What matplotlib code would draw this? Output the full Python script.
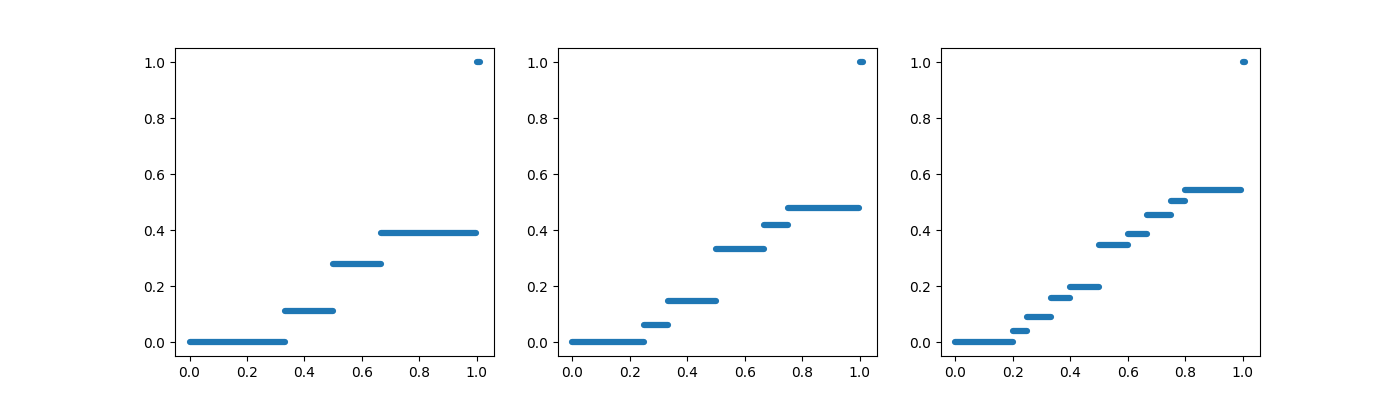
import matplotlib
matplotlib.use("Agg")
import matplotlib.pyplot as plt

# Step-function data: segment breakpoints (x) and levels (y) for each panel
breaks1 = [0.0, 0.333, 0.5, 0.667, 0.996]
levels1 = [0.0, 0.111, 0.279, 0.389]

breaks2 = [0.0, 0.25, 0.333, 0.5, 0.667, 0.75, 0.996]
levels2 = [0.0, 0.061, 0.146, 0.332, 0.418, 0.479]

breaks3 = [0.0, 0.2, 0.25, 0.333, 0.4, 0.5, 0.6, 0.667, 0.75, 0.8, 0.996]
levels3 = [0.0, 0.039, 0.090, 0.157, 0.196, 0.346, 0.386, 0.454, 0.504, 0.543]

# final isolated point(s) at x = 1
end_x = [1.0, 1.01]
end_y = 1.0

panels = [(breaks1, levels1), (breaks2, levels2), (breaks3, levels3)]
color = "#1f77b4"

fig, axes = plt.subplots(1, 3, figsize=(14, 4), dpi=100)
for ax, (brk, lev) in zip(axes, panels):
    for i, v in enumerate(lev):
        ax.plot([brk[i], brk[i + 1]], [v, v], color=color, lw=4.5,
                solid_capstyle="round")
    ax.plot(end_x, [end_y, end_y], color=color, lw=4.5, solid_capstyle="round")
    ax.set_xlim(-0.0505, 1.0605)
    ax.set_ylim(-0.05, 1.05)
    ax.set_xticks([0.0, 0.2, 0.4, 0.6, 0.8, 1.0])
    ax.set_yticks([0.0, 0.2, 0.4, 0.6, 0.8, 1.0])

fig.savefig("out.png", dpi=100)
